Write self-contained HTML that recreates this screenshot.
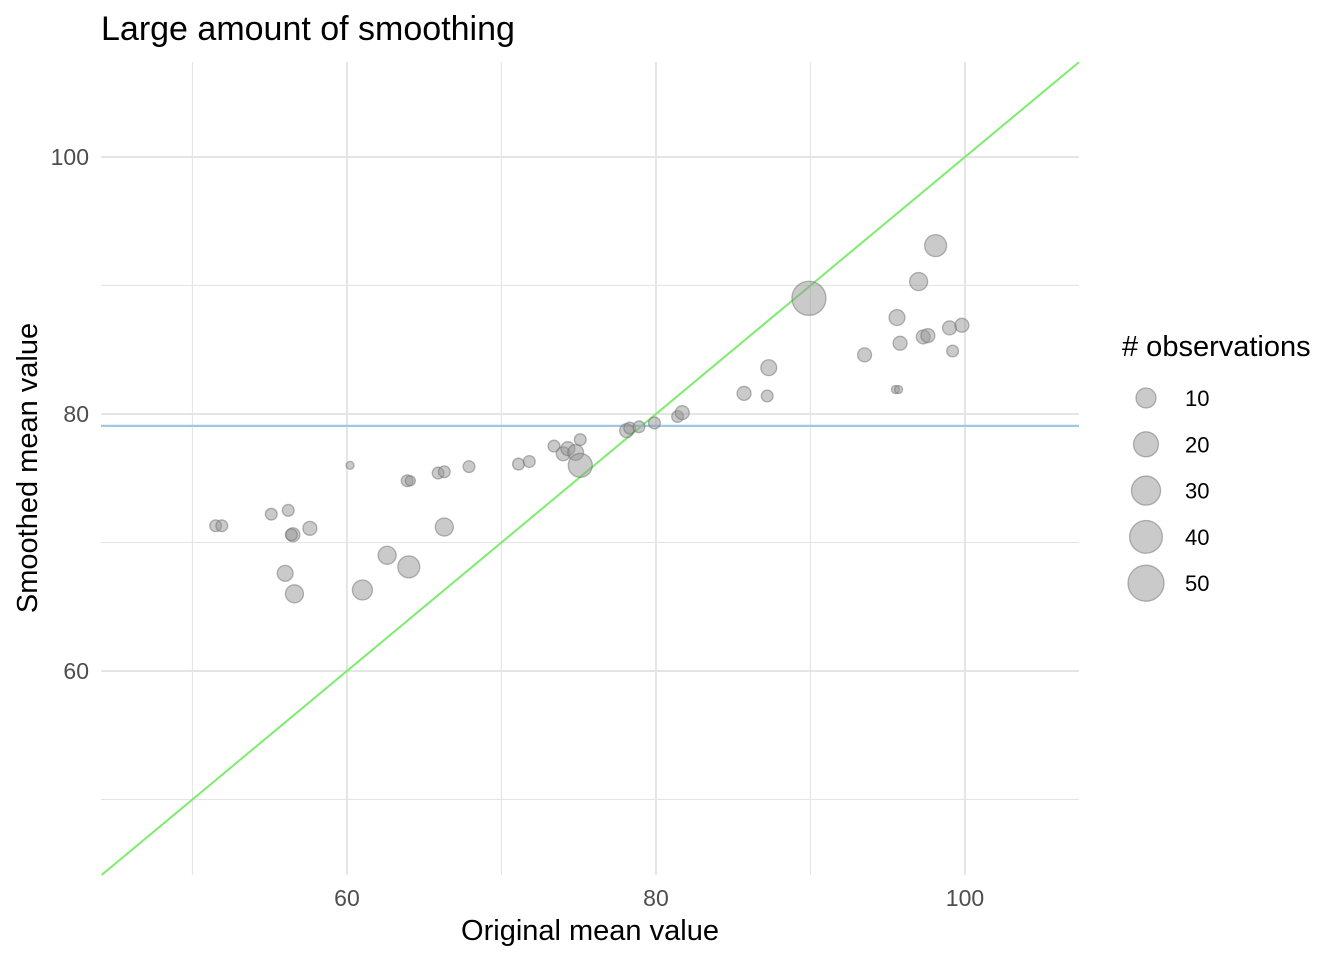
<!DOCTYPE html>
<html><head><meta charset="utf-8"><style>
body{margin:0;background:#fff;font-family:"Liberation Sans",Arial,sans-serif}
svg text{font-family:"Liberation Sans",Arial,sans-serif}
</style></head><body>
<svg id="chart" width="1344" height="960">
<text x="101" y="40" font-size="34" fill="#000">Large amount of smoothing</text>
<g id="grid"></g>
<g id="lines"></g>
<g id="pts"></g>
<g id="ticks"></g>
<text x="590" y="940" font-size="29" text-anchor="middle">Original mean value</text>
<text transform="translate(37,468) rotate(-90)" font-size="29" text-anchor="middle">Smoothed mean value</text>
<g id="legend">
<text x="1122" y="356" font-size="29"># observations</text>
</g>
</svg>
<script>
const xs=[51.5,51.9,55.1,56.2,56.5,56.4,57.6,56.0,56.6,60.2,61.0,62.6,64.0,63.9,64.1,65.9,66.3,66.3,67.9,71.1,71.8,73.4,74.0,74.3,74.8,75.1,75.1,78.1,78.3,78.9,79.9,81.4,81.7,85.7,87.2,87.3,89.9,93.5,95.5,95.7,95.6,95.8,97.0,97.3,97.6,98.1,99.0,99.2,99.8];
const ys=[71.3,71.3,72.2,72.5,70.6,70.6,71.1,67.6,66.0,76.0,66.3,69.0,68.1,74.8,74.8,75.4,75.5,71.2,75.9,76.1,76.3,77.5,76.9,77.3,77.0,76.0,78.0,78.7,78.9,79.0,79.3,79.8,80.1,81.6,81.4,83.6,89.0,84.6,81.9,81.9,87.5,85.5,90.3,86.0,86.1,93.1,86.7,84.9,86.9];
const ns=[3,3,3,3,4.5,3,4.5,6,8,1,10,8,13.6,3,2,3,3,8,3,3,3,3,4.5,4.5,6,17.9,3,4.5,3,3,3,3,4.5,4.5,3,6,44,4.5,1,1,6,4.5,8,4.5,4.5,13.6,4.5,3,4.5];
const xTicks=[60,80,100], yTicks=[60,80,100], legendNs=[10,20,30,40,50];
const refY=79.07;
const L=101,R=1079,T=62,B=875;
const x0=44.08,x1=107.38,y0=44.12,y1=107.39;
const X=v=>L+(v-x0)/(x1-x0)*(R-L);
const Y=v=>B-(v-y0)/(y1-y0)*(B-T);
const rad=n=>n>=10?Math.sqrt(44+5.6*n):Math.sqrt(16+(n-1)*9.33);
const NS='http://www.w3.org/2000/svg';
function mk(p,t,a){const e=document.createElementNS(NS,t);for(const k in a)e.setAttribute(k,a[k]);p.appendChild(e);return e;}
const g=document.getElementById('grid');
for(let v=50;v<=100;v+=10){const major=v%20==0;
 let l=mk(g,'line',{x1:X(v),x2:X(v),y1:T,y2:B,stroke:'#e5e5e5','stroke-width':major?2:1.2});
 
 
 let h=mk(g,'line',{x1:L,x2:R,y1:Y(v),y2:Y(v),stroke:'#e5e5e5','stroke-width':major?2:1.2});
 
 }
const tk=document.getElementById('ticks');
xTicks.forEach(v=>{const t=mk(tk,'text',{x:X(v),y:906,'font-size':23,fill:'#4d4d4d','text-anchor':'middle'});t.textContent=v;
 
 });
yTicks.forEach(v=>{const t=mk(tk,'text',{x:89,y:Y(v)+8,'font-size':23,fill:'#4d4d4d','text-anchor':'end'});t.textContent=v;
 
 });
const ln=document.getElementById('lines');
let d=mk(ln,'line',{x1:X(Math.max(x0,y0)),y1:Y(Math.max(x0,y0)),x2:X(Math.min(x1,y1)),y2:Y(Math.min(x1,y1)),stroke:'#7ded6e','stroke-width':2});


let hl=mk(ln,'line',{x1:L,x2:R,y1:Y(refY),y2:Y(refY),stroke:'#9ecae1','stroke-width':2.2});


const pg=document.getElementById('pts');
xs.forEach((v,i)=>{const c=mk(pg,'circle',{cx:X(v),cy:Y(ys[i]),r:rad(ns[i]),fill:'rgba(150,150,150,0.5)',stroke:'rgba(110,110,110,0.5)','stroke-width':1.3});
 
 });
const lg=document.getElementById('legend');
legendNs.forEach((n,i)=>{const cy=398+i*46.3;
 const c=mk(lg,'circle',{cx:1146,cy:cy,r:rad(n),fill:'rgba(150,150,150,0.5)',stroke:'rgba(110,110,110,0.5)','stroke-width':1.3});
 
 
 const t=mk(lg,'text',{x:1185,y:cy+8,'font-size':22});t.textContent=n;
 
 });
</script>
</body></html>
